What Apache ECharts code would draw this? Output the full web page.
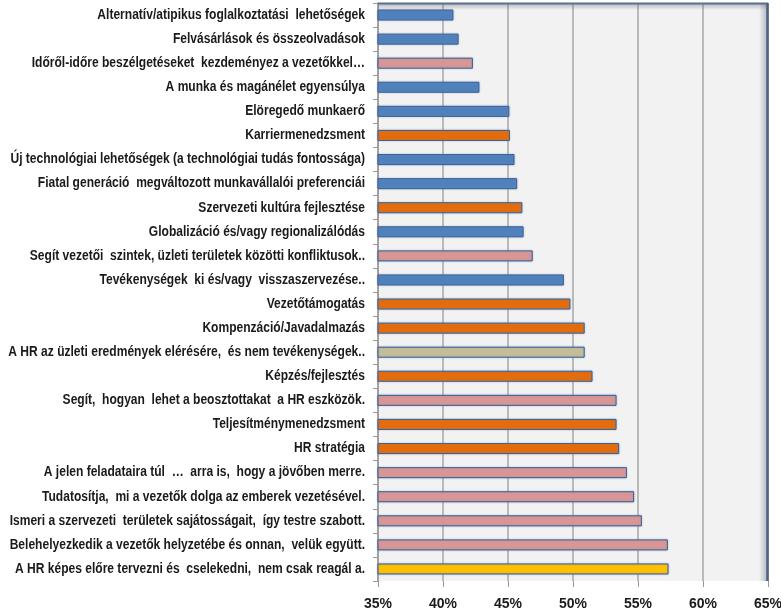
<!DOCTYPE html>
<html>
<head>
<meta charset="utf-8">
<script src="https://cdn.jsdelivr.net/npm/echarts@6/dist/echarts.min.js"></script>
<style>
  html, body { margin: 0; padding: 0; background: #ffffff; }
  #chart { width: 781px; height: 613px; }
</style>
</head>
<body>
<div id="chart"></div>
<script>
// Categories, top to bottom as drawn
const categories = [
  'Alternatív/atipikus foglalkoztatási  lehetőségek',
  'Felvásárlások és összeolvadások',
  'Időről-időre beszélgetéseket  kezdeményez a vezetőkkel…',
  'A munka és magánélet egyensúlya',
  'Elöregedő munkaerő',
  'Karriermenedzsment',
  'Új technológiai lehetőségek (a technológiai tudás fontossága)',
  'Fiatal generáció  megváltozott munkavállalói preferenciái',
  'Szervezeti kultúra fejlesztése',
  'Globalizáció és/vagy regionalizálódás',
  'Segít vezetői  szintek, üzleti területek közötti konfliktusok..',
  'Tevékenységek  ki és/vagy  visszaszervezése..',
  'Vezetőtámogatás',
  'Kompenzáció/Javadalmazás',
  'A HR az üzleti eredmények elérésére,  és nem tevékenységek..',
  'Képzés/fejlesztés',
  'Segít,  hogyan  lehet a beosztottakat  a HR eszközök.',
  'Teljesítménymenedzsment',
  'HR stratégia',
  'A jelen feladataira túl  …  arra is,  hogy a jövőben merre.',
  'Tudatosítja,  mi a vezetők dolga az emberek vezetésével.',
  'Ismeri a szervezeti  területek sajátosságait,  így testre szabott.',
  'Belehelyezkedik a vezetők helyzetébe és onnan,  velük együtt.',
  'A HR képes előre tervezni és  cselekedni,  nem csak reagál a.'
];

// Share of respondents (%)
const values = [
  40.8, 41.2, 42.3, 42.8, 45.1, 45.15, 45.5, 45.7, 46.1, 46.2, 46.9, 49.3,
  49.8, 50.9, 50.9, 51.5, 53.35, 53.35, 53.55, 54.15, 54.7, 55.3, 57.3, 57.35
];

// Colour group of each bar
const groups = [
  'trend', 'trend', 'partner', 'trend', 'trend', 'hr', 'trend', 'trend',
  'hr', 'trend', 'partner', 'trend', 'hr', 'hr', 'focus', 'hr',
  'partner', 'hr', 'hr', 'partner', 'partner', 'partner', 'partner', 'top'
];

// Value-axis ticks
const tickValues = [35, 40, 45, 50, 55, 60, 65];

const groupColors = {
  trend: '#4F81BD',
  partner: '#D99694',
  hr: '#E46C0A',
  focus: '#C4BD97',
  top: '#FFC000'
};

const G = { left: 378, right: 13, top: 3, bottom: 32 };
const W = 781, H = 613;
const plotW = W - G.left - G.right;
const plotH = H - G.top - G.bottom;

const chart = echarts.init(document.getElementById('chart'), null, { renderer: 'canvas' });

const labelFont = '"Liberation Sans", Arial, sans-serif';

// Category labels are drawn as condensed text, anchored to the axis through the coordinate system
function renderCategoryLabel(params, api) {
  const idx = api.value(0);
  const pt = api.coord([tickValues[0], idx]);
  return {
    type: 'text',
    x: pt[0] - 13,
    y: pt[1],
    scaleX: 0.86,
    style: {
      text: categories[idx],
      textAlign: 'right',
      textVerticalAlign: 'middle',
      fill: '#1a1a1a',
      font: 'bold 14px ' + labelFont
    }
  };
}

chart.setOption({
  animation: false,
  backgroundColor: '#ffffff',
  grid: {
    left: G.left, right: G.right, top: G.top, bottom: G.bottom,
    outerBoundsMode: 'none',
    containLabel: false,
    show: true,
    backgroundColor: '#F2F2F2',
    borderWidth: 0
  },
  xAxis: {
    type: 'value',
    min: tickValues[0],
    max: tickValues[tickValues.length - 1],
    interval: 5,
    axisLine: { show: false },
    axisTick: { show: true, length: 6, lineStyle: { color: '#9a9a9a' } },
    splitLine: { show: true, lineStyle: { color: '#a6a6a6', width: 1.5 } },
    axisLabel: {
      formatter: v => v + '%',
      color: '#1a1a1a',
      fontFamily: labelFont,
      fontWeight: 'bold',
      fontSize: 14,
      margin: 16
    }
  },
  yAxis: {
    type: 'category',
    inverse: true,
    data: categories,
    axisLine: { show: true, lineStyle: { color: '#9a9a9a', width: 1.5 } },
    axisTick: { show: true, length: 5, lineStyle: { color: '#9a9a9a' } },
    axisLabel: { show: false }
  },
  graphic: [
    // soft shadow under the top frame edge
    {
      type: 'rect',
      shape: { x: G.left, y: G.top, width: plotW, height: 7 },
      style: {
        fill: new echarts.graphic.LinearGradient(0, 0, 0, 1, [
          { offset: 0, color: 'rgba(90,100,120,0.45)' },
          { offset: 1, color: 'rgba(90,100,120,0)' }
        ])
      },
      z: 1, silent: true
    },
    // soft shadow along the right frame edge
    {
      type: 'rect',
      shape: { x: G.left + plotW - 9, y: G.top, width: 9, height: plotH },
      style: {
        fill: new echarts.graphic.LinearGradient(0, 0, 1, 0, [
          { offset: 0, color: 'rgba(90,100,120,0)' },
          { offset: 1, color: 'rgba(90,100,120,0.45)' }
        ])
      },
      z: 1, silent: true
    },
    {
      type: 'line',
      shape: { x1: G.left, y1: G.top + 0.5, x2: G.left + plotW, y2: G.top + 0.5 },
      style: { stroke: '#5b6f8c', lineWidth: 2 },
      z: 5, silent: true
    },
    {
      type: 'line',
      shape: { x1: G.left + plotW - 0.5, y1: G.top, x2: G.left + plotW - 0.5, y2: G.top + plotH },
      style: { stroke: '#4f6282', lineWidth: 2.5 },
      z: 5, silent: true
    }
  ],
  series: [{
    type: 'bar',
    barWidth: 11,
    z: 3,
    data: values.map((v, i) => ({
      value: v,
      itemStyle: { color: groupColors[groups[i]] }
    })),
    itemStyle: {
      borderColor: '#3d5f8c',
      borderWidth: 1,
      shadowColor: 'rgba(120,150,200,0.6)',
      shadowBlur: 2
    }
  }, {
    type: 'custom',
    clip: false,
    silent: true,
    renderItem: renderCategoryLabel,
    encode: { y: 0 },
    data: categories.map((c, i) => [i])
  }]
});
</script>
</body>
</html>
